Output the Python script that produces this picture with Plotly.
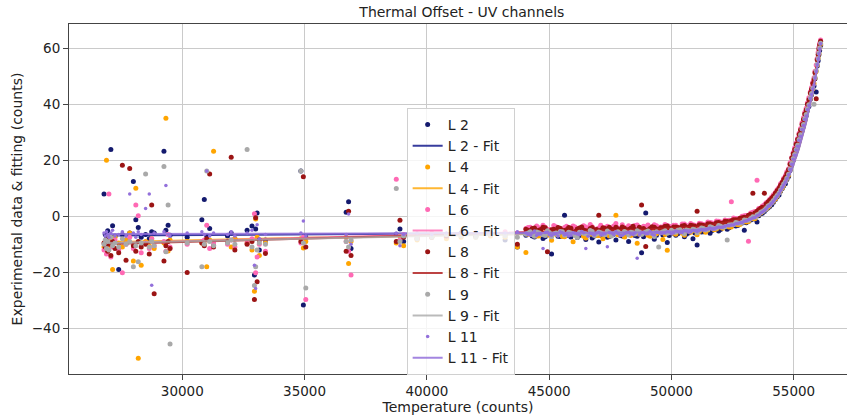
import plotly.graph_objects as go

# Shared temperature samples (counts)
temperature = [
    26800, 26850, 26900, 26950, 27000, 27080, 27150, 27250, 27400, 27550,
    27700, 27850, 28000, 28100, 28200, 28320, 28500, 28650, 28750, 28850,
    29250, 29330, 29420, 29500, 30200, 30800, 30900, 31000, 31120, 31280,
    31850, 32000, 32150, 32650, 32850, 32950, 33000, 33060, 33150, 33400,
    34850, 34950, 35050, 36700, 36800, 36900, 38750, 38900, 39050, 39600,
    40200, 40800, 41400, 42000, 42600, 43200, 43700,
    44050, 44230, 44400, 44580, 44750, 44930, 45100, 45280, 45450, 45630,
    45800, 45980, 46150, 46330, 46500, 46680, 46850, 47030, 47200, 47380,
    47550, 47730, 47900, 48080, 48250, 48430, 48600, 48780, 48950, 49130,
    49300, 49480, 49650, 49830, 50000, 50180, 50350, 50530, 50700, 50880,
    51050, 51230, 51400, 51580, 51750, 51930, 52100, 52280, 52450, 52630,
    52800, 52980, 53150, 53330, 53500, 53650, 53800, 53950, 54100, 54250,
    54400, 54530, 54660, 54790, 54920, 55040, 55160, 55280, 55400, 55510,
    55620, 55730, 55830, 55920, 56000, 56060, 56100,
]

L2 = [
    8.0, -6.5, -8.0, -5.2, -9.5, 23.9, -3.4, -7.0, -19.0, -6.5,
    -8.5, -6.0, 12.4, -1.2, -4.0, -7.5, -6.5, -8.0, -5.5, -6.0,
    23.2, -5.0, -3.2, -6.8, -7.5, -1.2, 6.0, -7.0, -4.4, -10.5,
    -7.0, -6.0, -8.0, -5.0, -3.5, -21.0, -4.5, 1.2, -12.0, -8.5,
    16.2, -31.7, -7.5, 1.4, 5.2, -11.5, -6.5, -4.5, -9.0, -7.0,
    -6.5, -7.5, -6.0, -7.0, -6.5, -8.5, -11.0,
    -6.8, -5.9, -7.4, -6.2, -7.9, -6.5, -13.5, -6.0, -7.2, 0.4,
    -6.9, -5.8, -7.6, -6.4, -8.3, -6.1, -7.0, -9.2, -6.6, -7.5,
    -5.9, -8.5, -6.8, -7.2, -9.0, -6.3, -7.1, -13.0, 1.2, -6.9,
    -8.2, -5.9, -6.7, -9.4, -6.1, -6.8, -5.4, -7.3, -6.0, -8.0,
    -10.3, -5.6, -5.2, -6.1, -4.5, -5.3, -4.0, -4.6, -3.3, -3.5,
    -2.6, -5.0, -1.8, -1.0, -2.0, 0.9, 1.7, 3.0, 4.1, 6.0,
    7.6, 9.9, 11.6, 14.2, 18.3, 21.5, 24.8, 28.7, 32.2, 35.9,
    39.2, 43.4, 46.5, 44.4, 55.6, 59.2, 61.0,
]

L4 = [
    -11.0, -9.0, 20.0, -12.5, -8.0, -10.5, -19.0, -7.5, -9.5, -11.0,
    -8.5, -6.0, -16.0, 10.0, -50.7, -17.5, -9.0, -10.5, -8.0, -11.5,
    -9.5, 35.0, -12.4, -8.5, -9.0, -9.5, -10.0, -18.0, -8.5, 23.2,
    -9.0, -11.0, -8.0, -9.5, -12.0, -26.8, -1.0, -7.5, -14.0, -9.5,
    -8.0, -11.3, -9.0, -7.5, -16.9, -9.0, -9.5, -7.0, -10.5, -8.5,
    -7.5, -8.0, -7.5, -7.5, -7.0, -7.5, -11.0,
    -12.9, -6.3, -5.4, -7.0, -6.1, -5.8, -8.6, -6.4, -5.5, -7.3,
    -6.0, -9.1, -6.5, -5.6, -7.8, -6.2, -5.9, -6.9, -8.0, -6.1,
    -5.7, 0.4, -6.6, -7.4, -5.8, -6.3, -9.6, -6.0, -5.5, -7.1,
    -6.4, -5.7, -8.3, -12.1, -5.9, -6.4, -4.9, -6.8, -5.3, -5.0,
    -6.6, -4.5, -5.7, -3.9, -4.8, -3.6, -4.3, -3.0, -3.8, -2.5,
    -2.9, -1.6, -1.9, -0.6, 0.3, 1.2, 2.3, 3.2, 4.9, 6.2,
    8.4, 10.1, 12.6, 14.7, 19.0, 22.0, 25.6, 29.0, 33.0, 36.5,
    40.1, 43.8, 47.4, 51.8, 56.5, 60.0, 61.5,
]

L6 = [
    -12.0, -10.5, -13.5, -9.0, 8.0, -14.5, -11.0, -8.5, -12.0, -20.2,
    -10.0, -7.5, -11.5, 4.0, 0.2, -13.0, -9.5, -11.5, -8.0, -10.5,
    -9.0, -12.5, -6.5, -11.0, -10.0, -9.0, -8.5, -3.2, -11.5, -9.5,
    -10.0, -8.5, -11.0, -9.5, -8.0, 0.9, -20.2, -14.5, -10.0, -12.5,
    -9.5, -7.5, -29.7, -9.0, -12.5, -21.0, 13.2, -8.5, -6.5, -7.5,
    -6.0, -7.0, -6.5, -6.0, -6.5, -5.5, -6.0,
    -4.4, -3.9, -5.2, -4.1, -3.2, -4.8, -5.0, -3.7, -4.6, -4.0,
    -5.3, -3.5, -4.4, -4.9, -3.8, -2.9, -4.7, -4.2, -5.1, -3.6,
    -4.3, -2.6, -4.8, -4.0, -3.4, -4.6, -3.1, -4.9, -3.7, -4.2,
    -3.0, -4.5, -3.8, -3.3, -4.0, -3.2, -4.4, -2.8, -3.6, -3.0,
    -3.8, -2.7, -3.1, -2.2, -2.9, -1.8, -2.4, -1.5, 5.2, -0.8,
    -1.1, 0.2, -8.9, 1.4, 12.9, 3.0, 4.1, 5.3, 6.9, 8.5,
    10.4, 12.3, 14.6, 17.0, 21.0, 24.5, 27.8, 31.4, 35.2, 38.6,
    42.3, 46.0, 49.5, 54.0, 58.6, 61.8, 63.0,
]

L8 = [
    -9.5, -11.0, -8.5, -12.5, -10.0, -14.0, -9.0, -11.5, -13.0, 18.2,
    -15.7, 17.1, -10.5, -12.5, -9.0, -11.0, -10.0, -13.5, 4.0, -27.7,
    -16.0, -10.5, -9.0, -11.5, -20.1, -9.5, -10.5, -8.0, 15.1, -11.0,
    -9.0, 21.1, -12.0, -10.0, -9.0, -29.7, -0.5, -23.4, -8.5, -13.3,
    -9.0, 14.1, -11.0, -12.5, 1.8, -14.0, -9.0, -1.4, -7.5, -8.0,
    -7.5, -7.0, -6.5, -7.0, -6.0, -6.5, -10.0,
    -4.6, -5.3, -4.2, -5.0, -3.9, -12.7, -4.8, -5.4, -4.3, -5.1,
    -4.0, -5.6, -4.5, -3.8, -5.2, -4.4, -4.9, 0.4, -4.1, -5.3,
    -4.6, -3.9, -5.0, -4.3, -4.7, -3.6, -5.1, 4.0, -10.8, -4.4,
    -3.9, -4.8, -4.1, -3.5, -4.6, -3.8, -4.2, -3.3, -4.0, -3.4,
    1.8, -3.1, -3.5, -2.7, -3.0, -2.2, -2.5, -1.9, -1.6, -1.2,
    -0.7, -0.3, 0.4, 8.2, 1.8, 2.9, 8.2, 5.1, 6.4, 8.2,
    10.0, 12.1, 14.0, 16.6, 20.8, 23.9, 27.4, 30.8, 34.6, 38.0,
    41.6, 45.4, 48.9, 42.0, 57.8, 61.2, 62.5,
]

L9 = [
    -10.0, -8.5, -11.5, -9.0, -12.0, -7.5, -10.5, -9.5, -11.0, -8.0,
    -10.0, -9.0, -18.0, -10.5, -16.2, -9.5, 15.1, -11.0, -9.0, -10.5,
    17.8, -12.7, 4.0, -45.6, -9.5, -18.0, -10.0, 16.2, -9.0, -10.5,
    -9.5, -8.5, -10.0, 23.9, -11.0, -24.7, -18.0, -12.0, -9.5, -10.0,
    16.2, -9.5, -25.6, -9.0, -11.0, -8.5, 9.9, -9.0, -7.0, -8.0,
    -7.5, -6.5, -7.0, -7.5, -6.5, -7.0, -7.5,
    -6.4, -5.5, -7.1, -5.9, -6.6, -5.2, -7.3, -6.0, -5.4, -6.8,
    -5.7, -6.3, -7.6, -5.8, -6.2, -5.1, -6.9, -5.6, -6.4, -5.3,
    -7.0, -5.8, -6.1, -5.4, -6.7, -5.9, -5.2, -6.5, -5.6, -6.0,
    -7.2, -11.0, -5.5, -6.1, -5.0, -5.7, -4.8, -6.2, -5.1, -4.6,
    -5.9, -4.2, -4.9, -3.7, -4.4, -3.3, -3.9, -8.5, -3.0, -2.2,
    -2.5, -1.3, -1.4, -0.2, 0.5, 1.4, 2.2, 3.7, 4.8, 6.6,
    8.3, 10.5, 12.4, 15.0, 18.9, 22.1, 25.4, 29.1, 32.8, 36.4,
    39.8, 43.9, 40.0, 52.0, 56.4, 60.1, 61.8,
]

L11 = [
    -6.0, -7.0, -5.5, -6.5, -7.5, -6.0, -5.0, -7.0, -6.5, -5.5,
    -7.0, 8.0, -6.0, -7.5, -5.5, -6.5, 2.8, 8.0, -24.6, -6.0,
    -5.5, 11.0, -6.5, -7.0, -6.0, -5.5, -6.5, 16.2, -7.0, -6.0,
    -6.5, -5.5, -7.0, -6.0, -5.0, -17.5, -25.8, -3.0, -8.0, -6.5,
    -6.0, -1.7, -7.0, -6.5, 0.8, -10.0, -6.0, -10.5, -6.5, -6.0,
    -6.5, -6.0, -5.5, -6.0, -5.5, -6.0, -5.5,
    -6.0, -6.8, -5.3, -6.4, -11.5, -5.7, -6.9, -6.2, -5.5, -6.6,
    -7.0, -5.9, -6.3, -5.4, -11.5, -6.1, -6.7, -5.8, -6.4, -10.9,
    -6.0, -5.5, -6.9, -6.2, -5.7, -6.5, -15.0, -5.9, -6.3, -5.4,
    -6.7, -5.8, -6.1, -5.5, -6.2, -5.3, -5.9, -5.2, -5.7, -5.0,
    -5.4, -4.7, -4.8, -4.2, -4.5, -3.8, -3.9, -3.3, -3.1, -2.7,
    -2.3, -1.8, -1.2, -0.6, 0.2, 1.2, 2.1, 3.5, 4.7, 6.3,
    8.1, 10.2, 12.2, 14.8, 18.6, 21.8, 25.0, 28.6, 32.4, 35.8,
    39.6, 43.5, 46.9, 51.7, 56.2, 59.8, 61.6,
]

# Additional samples in the dense warm region (counts)
temperature_extra = [
    44140, 44310, 44490, 44660, 44840, 45010, 45190, 45360, 45540, 45710,
    45890, 46060, 46240, 46410, 46590, 46760, 46940, 47110, 47290, 47460,
    47640, 47810, 47990, 48160, 48340, 48510, 48690, 48860, 49040, 49210,
    49390, 49560, 49740, 49910, 50090, 50260, 50440, 50610, 50790, 50960,
    51140, 51310, 51490, 51660, 51840, 52010, 52190, 52360, 52540, 52710,
    52890, 53060, 53240, 53410, 53570, 53720, 53870, 54020, 54170, 54320,
    54460, 54590, 54720, 54850, 54980, 55100, 55220, 55340, 55450, 55560,
    55680, 55780, 55870, 55960, 56030,
]
L2_extra = [
    -6.1, -7.0, -6.4, -5.8, -7.3, -6.6, -6.0, -7.1, -6.5, -5.9,
    -7.4, -6.3, -6.9, -5.7, -6.6, -7.8, -6.2, -6.8, -5.9, -7.2,
    -6.4, -6.0, -7.0, -6.3, -5.8, -6.9, -6.1, -7.3, -5.9, -6.4,
    -6.8, -5.7, -6.3, -6.9, -5.5, -6.2, -5.6, -6.4, -5.3, -6.0,
    -5.2, -5.5, -4.6, -5.1, -4.3, -4.7, -3.8, -4.1, -3.2, -3.3,
    -2.4, -2.3, -1.3, -0.9, 0.2, 1.1, 2.4, 3.5, 5.0, 6.9,
    8.9, 10.9, 13.1, 16.4, 20.0, 23.4, 26.9, 30.6, 34.3, 37.8,
    41.8, 45.2, 49.1, 53.7, 57.7,
]
L4_extra = [
    -6.4, -5.9, -7.0, -6.2, -5.6, -6.8, -6.1, -5.7, -7.2, -6.3,
    -5.9, -6.7, -6.0, -7.1, -5.8, -6.4, -6.9, -5.6, -6.2, -7.0,
    -5.9, -6.6, -6.1, -5.7, -6.9, -6.0, -6.4, -5.5, -6.8, -5.9,
    -6.2, -5.6, -6.5, -5.4, -6.0, -5.3, -6.1, -5.2, -5.7, -5.0,
    -5.4, -4.6, -4.9, -4.2, -4.5, -3.9, -3.6, -3.8, -2.9, -3.0,
    -2.1, -2.0, -1.0, -0.9, 0.6, 1.6, 2.6, 3.9, 5.4, 7.2,
    9.2, 11.2, 13.5, 16.7, 20.4, 23.7, 27.2, 31.0, 34.6, 38.1,
    42.1, 45.5, 49.4, 54.0, 58.1,
]
L6_extra = [
    -4.0, -4.6, -3.5, -4.3, -3.9, -4.7, -3.3, -4.1, -4.8, -3.6,
    -4.2, -3.8, -4.9, -3.4, -4.3, -3.7, -4.5, -3.2, -4.0, -4.6,
    -3.5, -4.1, -3.0, -4.4, -3.7, -3.3, -4.2, -3.6, -3.1, -4.0,
    -3.4, -3.8, -2.9, -3.6, -3.2, -3.9, -2.8, -3.3, -2.6, -3.2,
    -2.5, -2.9, -2.0, -2.4, -1.7, -2.0, -1.3, -1.4, -0.6, -0.9,
    0.0, 0.3, 1.2, 1.7, 2.8, 3.7, 4.8, 6.1, 7.7, 9.5,
    11.6, 13.6, 15.9, 19.1, 22.8, 26.2, 29.7, 33.4, 37.1, 40.5,
    44.5, 47.9, 51.8, 56.4, 60.3,
]
L8_extra = [
    -5.0, -4.4, -5.2, -4.7, -4.1, -5.5, -4.6, -4.0, -5.1, -4.8,
    -4.3, -5.4, -4.2, -4.9, -5.3, -4.0, -4.7, -5.0, -4.4, -3.9,
    -4.8, -4.5, -3.8, -5.0, -4.3, -4.7, -3.9, -4.4, -4.9, -3.7,
    -4.5, -4.1, -3.6, -4.3, -3.8, -4.0, -3.5, -3.9, -3.2, -3.6,
    -3.0, -3.3, -2.7, -2.9, -2.3, -2.5, -1.8, -2.0, -1.2, -1.3,
    -0.5, -0.4, 0.7, 1.2, 2.3, 3.2, 4.4, 5.7, 7.2, 9.1,
    11.1, 13.1, 15.3, 18.6, 22.3, 25.7, 29.2, 32.8, 36.5, 40.0,
    44.0, 47.4, 51.3, 55.9, 59.8,
]
L9_extra = [
    -6.0, -6.6, -5.6, -6.3, -6.9, -5.8, -6.2, -6.7, -5.5, -6.4,
    -6.0, -6.8, -5.7, -6.1, -6.5, -5.4, -6.3, -5.9, -6.6, -5.8,
    -6.2, -5.5, -6.4, -5.9, -5.7, -6.3, -5.6, -6.0, -5.3, -6.1,
    -5.5, -5.9, -5.2, -5.8, -5.4, -5.0, -5.6, -4.9, -5.3, -4.8,
    -4.9, -4.4, -4.6, -4.0, -4.2, -3.6, -3.7, -3.1, -3.0, -2.4,
    -2.2, -1.4, -0.8, -0.3, 0.7, 1.7, 2.8, 4.0, 5.6, 7.4,
    9.4, 11.5, 13.6, 16.9, 20.6, 23.9, 27.4, 31.2, 34.8, 38.3,
    42.3, 45.7, 49.6, 54.3, 58.3,
]
L11_extra = [
    -6.5, -6.0, -6.9, -6.2, -5.8, -6.6, -6.3, -7.0, -5.9, -6.4,
    -6.8, -6.1, -6.6, -5.9, -7.1, -6.3, -6.0, -6.7, -6.2, -5.8,
    -6.5, -6.1, -6.8, -5.9, -6.3, -6.0, -6.6, -5.8, -6.2, -6.4,
    -5.7, -6.1, -5.9, -5.6, -6.0, -5.4, -5.8, -5.3, -5.6, -5.2,
    -5.1, -5.0, -4.5, -4.6, -4.1, -4.0, -3.6, -3.4, -3.1, -2.6,
    -2.3, -1.7, -1.1, -0.4, 0.5, 1.5, 2.6, 3.9, 5.4, 7.2,
    9.2, 11.2, 13.4, 16.7, 20.4, 23.7, 27.2, 31.0, 34.6, 38.1,
    42.1, 45.5, 49.4, 54.1, 58.1,
]

# Fitted curves
fit_temperature = [27000, 29000, 31000, 33000, 35000, 37000, 39000, 41000, 43000,
                   45000, 47000, 49000, 50000, 51000, 52000, 52500, 53000, 53500,
                   54000, 54300, 54600, 54900, 55200, 55500, 55800, 56000, 56100]
L2_fit = [-6.9, -6.8, -6.7, -6.6, -6.5, -6.4, -6.3, -6.2, -6.0, -5.9, -5.8, -5.5, -5.2, -4.6,
          -3.5, -2.7, -1.5, 0.3, 3.9, 6.9, 11.2, 16.7, 24.2, 33.7, 45.7, 55.7, 60.7]
L4_fit = [-9.3, -8.8, -8.4, -8.0, -7.7, -7.4, -7.1, -6.8, -6.5, -6.2, -6.0, -5.7, -5.4, -4.8,
          -3.7, -2.9, -1.7, 0.1, 3.7, 6.7, 11.0, 16.5, 24.0, 33.5, 45.5, 55.5, 60.5]
L6_fit = [-9.6, -9.1, -8.6, -8.1, -7.7, -7.2, -6.8, -6.4, -5.9, -5.4, -5.0, -4.6, -4.2, -3.6,
          -2.5, -1.7, -0.5, 1.4, 5.1, 8.2, 12.6, 18.2, 25.8, 35.3, 47.3, 57.2, 62.0]
L8_fit = [-9.9, -9.4, -8.9, -8.4, -7.9, -7.4, -6.9, -6.5, -6.0, -5.5, -5.1, -4.7, -4.3, -3.7,
          -2.6, -1.8, -0.6, 1.2, 4.9, 8.0, 12.4, 18.0, 25.6, 35.1, 47.1, 57.0, 61.8]
L9_fit = [-9.5, -9.1, -8.7, -8.3, -7.9, -7.5, -7.2, -6.9, -6.6, -6.3, -6.0, -5.7, -5.4, -4.8,
          -3.7, -2.9, -1.7, 0.1, 3.7, 6.8, 11.1, 16.6, 24.1, 33.6, 45.6, 55.6, 60.6]
L11_fit = [-6.3, -6.3, -6.2, -6.2, -6.2, -6.1, -6.1, -6.1, -6.0, -6.0, -5.9, -5.7, -5.4, -4.8,
           -3.8, -3.0, -1.8, 0.0, 3.5, 6.5, 10.8, 16.2, 23.7, 33.2, 45.2, 55.2, 60.2]

channels = ["L 2", "L 4", "L 6", "L 8", "L 9", "L 11"]
data = [L2, L4, L6, L8, L9, L11]
data_extra = [L2_extra, L4_extra, L6_extra, L8_extra, L9_extra, L11_extra]
fits = [L2_fit, L4_fit, L6_fit, L8_fit, L9_fit, L11_fit]
marker_colors = ["#141a6e", "#ffa500", "#ff69b4", "#9b1414", "#a9a9a9", "#9370db"]
line_colors = ["rgba(20,26,140,0.85)", "rgba(255,165,0,0.8)", "rgba(255,105,180,0.8)",
               "rgba(178,34,34,0.85)", "rgba(169,169,169,0.8)", "rgba(147,112,219,0.85)"]
marker_sizes = [5, 5, 5, 5, 5, 3.5]

fig = go.Figure()
for name, ys, yx, fy, mc, lc, ms in zip(channels, data, data_extra, fits,
                                         marker_colors, line_colors, marker_sizes):
    fig.add_trace(go.Scatter(x=temperature + temperature_extra, y=ys + yx, mode="markers", name=name,
                             marker=dict(color=mc, size=ms, line=dict(width=0))))
    fig.add_trace(go.Scatter(x=fit_temperature, y=fy, mode="lines", name=name + " - Fit",
                             line=dict(color=lc, width=2)))

font = "DejaVu Sans, sans-serif"
fig.update_layout(
    width=847, height=417,
    margin=dict(l=69, r=0, t=24, b=43, autoexpand=False),
    paper_bgcolor="white", plot_bgcolor="white",
    font=dict(family=font, size=13.5, color="#222"),
    title=dict(text="Thermal Offset - UV channels", x=0.505, xref="paper", xanchor="center",
               y=1 - 12 / 417, yref="container", yanchor="middle", font=dict(size=14, color="#222")),
    legend=dict(x=0.434, y=0.76, xanchor="left", yanchor="top",
                bgcolor="rgba(255,255,255,0.8)", bordercolor="#d0d0d0", borderwidth=1,
                font=dict(size=14, color="#222"), tracegroupgap=0),
    showlegend=True,
)
fig.update_xaxes(range=[25368, 57179], dtick=5000, tick0=25000, tickformat="d",
                 showgrid=True, gridcolor="#cacaca", gridwidth=1, zeroline=False,
                 showline=True, linecolor="#444", linewidth=1, mirror=True,
                 ticks="outside", ticklen=5, tickcolor="#444",
                 title=dict(text="Temperature (counts)", standoff=2, font=dict(size=14)))
fig.update_yaxes(range=[-56.34, 68.69], dtick=20, tick0=0,
                 showgrid=True, gridcolor="#cacaca", gridwidth=1, zeroline=False,
                 showline=True, linecolor="#444", linewidth=1,
                 ticks="outside", ticklen=5, tickcolor="#444",
                 title=dict(text="Experimental data & fitting (counts)", standoff=5, font=dict(size=14)))

fig.write_html("out.html", config={"displayModeBar": False},
               post_script="document.body.style.margin='0px';")
